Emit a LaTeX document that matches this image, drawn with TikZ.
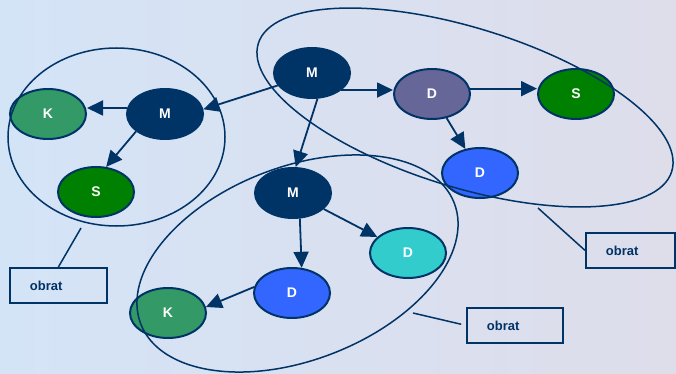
\documentclass[tikz,border=0pt]{standalone}
\usepackage{fontspec}
\setmainfont{Liberation Sans}
\usetikzlibrary{shapes.geometric,arrows.meta}
\definecolor{navy}{RGB}{0,51,102}
\definecolor{kgreen}{RGB}{51,153,102}
\definecolor{sgreen}{RGB}{0,128,0}
\definecolor{dpurple}{RGB}{102,102,153}
\definecolor{dblue}{RGB}{51,102,255}
\definecolor{dcyan}{RGB}{51,204,204}
\definecolor{bgA}{RGB}{212,228,247}
\definecolor{bgB}{RGB}{222,221,234}
\begin{document}
\begin{tikzpicture}[x=1pt,y=1pt,
  nd/.style={ellipse,draw=navy,line width=2pt,minimum width=76pt,minimum height=50pt,inner sep=0pt,
    text=white,font=\bfseries\fontsize{14}{14}\selectfont},
  arr/.style={draw=navy,line width=1.8pt,-{Triangle[length=16pt,width=15pt]}},
  grp/.style={draw=navy,line width=1.5pt},
  lead/.style={draw=navy,line width=1.5pt},
  obox/.style={draw=navy,line width=1.8pt,minimum height=35pt,inner xsep=20pt,align=left,
    text=navy,font=\bfseries\fontsize{13}{13}\selectfont}]
\useasboundingbox (0,0) rectangle (676,-374);
\shade[left color=bgA,right color=bgB] (0,0) rectangle (676,-374);
% nodes
\node[nd,fill=navy]    (mt) at (312,-73)  {M};
\node[nd,fill=dpurple] (dp) at (432,-94)  {D};
\node[nd,fill=sgreen]  (s1) at (576,-94)  {S};
\node[nd,fill=dblue]   (dr) at (480,-173) {D};
\node[nd,fill=navy]    (ml) at (165,-114) {M};
\node[nd,fill=kgreen]  (kl) at (48,-114)  {K};
\node[nd,fill=sgreen]  (sl) at (96,-192)  {S};
\node[nd,fill=navy]    (mb) at (293,-193) {M};
\node[nd,fill=dcyan]   (dc) at (408,-253) {D};
\node[nd,fill=dblue]   (db) at (292,-293) {D};
\node[nd,fill=kgreen]  (kb) at (168,-313) {K};
% connectors
\draw[arr] (mt.200) -- (ml.7);
\draw[arr] (ml.171) -- (ml.171 -| kl.east);
\draw[arr] (ml.211) -- (sl.68);
\draw[arr] (mt.-30) -- (mt.-30 -| dp.west);
\draw[arr] (dp.8) -- (dp.8 -| s1.west);
\draw[arr] (dp) -- (dr);
\draw[arr] (mt.-78) -- (mb.84);
\draw[arr] (mb) -- (dc);
\draw[arr] (mb.-75) -- (db.69);
\draw[arr] (db.171) -- (kb.9);
% group outlines
\draw[grp] (116.5,-137) ellipse [x radius=108.5, y radius=89];
\draw[grp, rotate around={-17.2:(465,-107.5)}] (465,-107.5) ellipse [x radius=216.4, y radius=79.7];
\draw[grp, rotate around={21.1:(297.5,-263.5)}] (297.5,-263.5) ellipse [x radius=168, y radius=96.6];
% boxes
\node[obox,text width=57pt,anchor=north west] (b1) at (9,-267) {obrat};
\node[obox,text width=49pt,anchor=north west] (b2) at (585,-232) {obrat};
\node[obox,text width=56pt,anchor=north west] (b3) at (466,-307) {obrat};
\coordinate (c1) at (81,-228);
\coordinate (c2) at (538,-208);
\coordinate (c3) at (413,-313);
\draw[lead] (c1) -- (b1.north);
\draw[lead] (c2) -- (b2.west);
\draw[lead,shorten >=5pt] (c3) -- (b3.west);
\end{tikzpicture}
\end{document}
